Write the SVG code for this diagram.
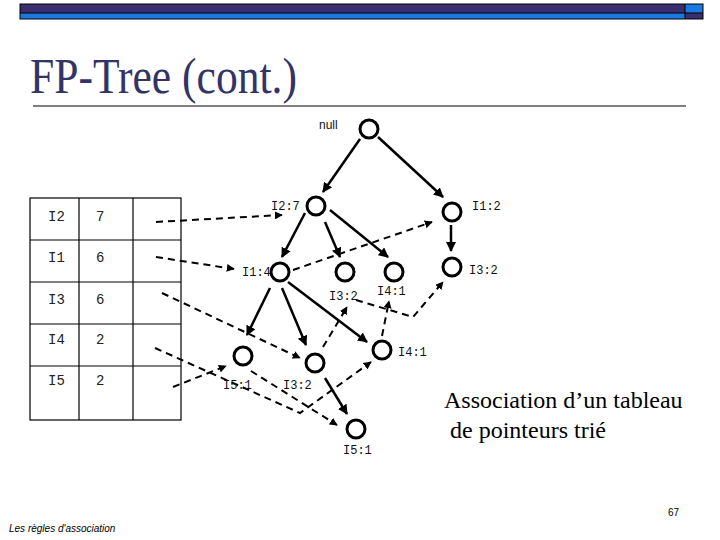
<svg xmlns="http://www.w3.org/2000/svg" width="720" height="540" viewBox="0 0 720 540">
<defs>
<marker id="ah" viewBox="0 0 10 10" refX="9" refY="5" markerWidth="10" markerHeight="10" markerUnits="userSpaceOnUse" orient="auto"><path d="M0,0 L10,5 L0,10 z" fill="#000"/></marker>
<marker id="ahd" viewBox="0 0 10 10" refX="9" refY="5" markerWidth="8" markerHeight="8" markerUnits="userSpaceOnUse" orient="auto"><path d="M0,0 L10,5 L0,10 z" fill="#000"/></marker>
</defs>
<style>
.node{fill:#fff;stroke:#000;stroke-width:3}
.lbl{font-family:"Liberation Mono",monospace;font-size:12px;fill:#111}
.tbl{font-family:"Liberation Mono",monospace;font-size:14px;fill:#222}
.solid{fill:none;stroke:#000;stroke-width:2.5;marker-end:url(#ah)}
.dash{fill:none;stroke:#000;stroke-width:2;stroke-dasharray:7 5;marker-end:url(#ahd)}
.grid{fill:none;stroke:#000;stroke-width:1.2}
</style>
<rect x="0" y="0" width="720" height="540" fill="#fff"/>
<g id="topbar">
<rect x="20" y="4" width="665" height="9" fill="#3b2e6e"/>
<rect x="685" y="4" width="18" height="9" fill="#1a78e0"/>
<rect x="20" y="13" width="665" height="6" fill="#1a78e0"/>
<rect x="685" y="13" width="18" height="6" fill="#3b2e6e"/>
<rect x="20" y="4" width="683" height="15" fill="none" stroke="#000" stroke-width="1"/>
<line x1="20" y1="13" x2="703" y2="13" stroke="#000" stroke-width="1"/>
<line x1="685" y1="4" x2="685" y2="19" stroke="#000" stroke-width="1"/>
</g>
<text x="30" y="93" font-family="Liberation Serif,serif" font-size="50" fill="#333366" textLength="267" lengthAdjust="spacingAndGlyphs">FP-Tree (cont.)</text>
<line x1="33" y1="106" x2="686" y2="106" stroke="#000" stroke-width="1"/>
<g id="table">
<rect class="grid" x="30" y="198" width="151" height="222"/>
<line class="grid" x1="79" y1="198" x2="79" y2="420"/>
<line class="grid" x1="133" y1="198" x2="133" y2="420"/>
<line class="grid" x1="30" y1="240" x2="181" y2="240"/>
<line class="grid" x1="30" y1="282" x2="181" y2="282"/>
<line class="grid" x1="30" y1="324" x2="181" y2="324"/>
<line class="grid" x1="30" y1="366" x2="181" y2="366"/>
<text class="tbl" x="48" y="221">I2</text><text class="tbl" x="96" y="221">7</text>
<text class="tbl" x="48" y="262">I1</text><text class="tbl" x="96" y="262">6</text>
<text class="tbl" x="48" y="304">I3</text><text class="tbl" x="96" y="304">6</text>
<text class="tbl" x="48" y="344">I4</text><text class="tbl" x="96" y="344">2</text>
<text class="tbl" x="48" y="385">I5</text><text class="tbl" x="96" y="385">2</text>
</g>
<g id="connectors">
<line class="solid" x1="360" y1="139" x2="323" y2="192"/>
<line class="solid" x1="378" y1="137" x2="443" y2="197"/>
<line class="solid" x1="305" y1="213" x2="282" y2="257"/>
<line class="solid" x1="325" y1="222" x2="340" y2="257"/>
<line class="solid" x1="330" y1="210" x2="388" y2="257"/>
<line class="solid" x1="451" y1="225" x2="451" y2="251"/>
<line class="solid" x1="270" y1="288" x2="247" y2="335"/>
<line class="solid" x1="282" y1="288" x2="306" y2="345"/>
<line class="solid" x1="288" y1="282" x2="367" y2="342"/>
<line class="solid" x1="325" y1="378" x2="347" y2="414"/>
<line class="dash" x1="156" y1="222" x2="282" y2="215"/>
<line class="dash" x1="156" y1="257" x2="234" y2="269"/>
<line class="dash" x1="162" y1="293" x2="300" y2="358"/>
<polyline class="dash" points="155,348 300,413 371,362"/>
<line class="dash" x1="173" y1="387" x2="226" y2="366"/>
<line class="dash" x1="251" y1="371" x2="337" y2="425"/>
<line class="dash" x1="323" y1="347" x2="347" y2="307"/>
<line class="dash" x1="293" y1="270" x2="432" y2="222"/>
<polyline class="dash" points="356,300 413,317 443,282"/>
<line class="dash" x1="382" y1="336" x2="389" y2="301"/>
</g>
<g id="n_null"><circle class="node" cx="369" cy="129" r="9"/><text x="319" y="129" font-family="Liberation Sans,sans-serif" font-size="12" fill="#111">null</text></g>
<g id="n_I2_7"><circle class="node" cx="316" cy="206" r="9"/><text class="lbl" x="271" y="210">I2:7</text></g>
<g id="n_I1_2"><circle class="node" cx="452" cy="212" r="9"/><text class="lbl" x="472" y="210">I1:2</text></g>
<g id="n_I1_4"><circle class="node" cx="280" cy="272" r="9"/><text class="lbl" x="242" y="276">I1:4</text></g>
<g id="n_I3_2a"><circle class="node" cx="345" cy="272" r="9"/><text class="lbl" x="329" y="300">I3:2</text></g>
<g id="n_I4_1a"><circle class="node" cx="394" cy="272" r="9"/><text class="lbl" x="377" y="295">I4:1</text></g>
<g id="n_I3_2b"><circle class="node" cx="452" cy="267" r="9"/><text class="lbl" x="469" y="274">I3:2</text></g>
<g id="n_I5_1a"><circle class="node" cx="243" cy="356" r="9"/><text class="lbl" x="223" y="389">I5:1</text></g>
<g id="n_I3_2c"><circle class="node" cx="315" cy="363" r="9"/><text class="lbl" x="283" y="389">I3:2</text></g>
<g id="n_I4_1b"><circle class="node" cx="382" cy="350" r="9"/><text class="lbl" x="398" y="356">I4:1</text></g>
<g id="n_I5_1b"><circle class="node" cx="356" cy="429" r="9"/><text class="lbl" x="343" y="454">I5:1</text></g>
<text font-family="Liberation Serif,serif" font-size="24" fill="#000"><tspan x="444" y="408">Association d’un tableau</tspan><tspan x="444" y="438"> de pointeurs trié</tspan></text>
<text x="668" y="516" font-family="Liberation Sans,sans-serif" font-size="10" fill="#000">67</text>
<text x="9" y="532" font-family="Liberation Sans,sans-serif" font-size="10" font-style="italic" fill="#000">Les règles d'association</text>
</svg>
